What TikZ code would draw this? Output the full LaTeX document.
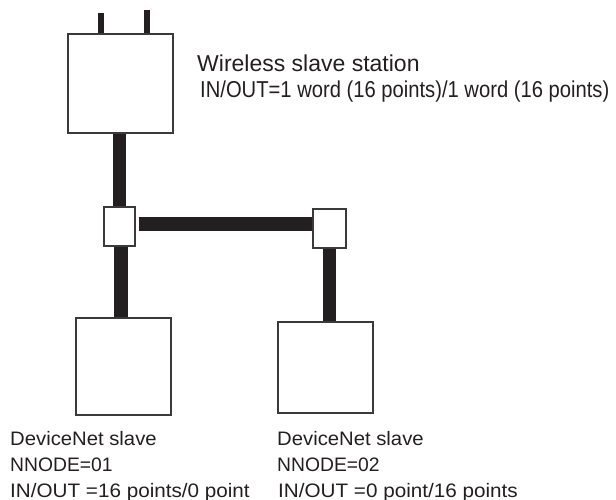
\documentclass[tikz,border=0pt]{standalone}
\usepackage{fontspec}
\setmainfont{Liberation Sans}
\usetikzlibrary{backgrounds}
\definecolor{barcol}{HTML}{231F20}
\definecolor{edgecol}{HTML}{3A3A3A}
\begin{document}
\begin{tikzpicture}[x=1pt,y=-1pt,
  box/.style={draw=edgecol,line width=1.3pt,fill=white,inner sep=0pt,minimum width=#1},
  bar/.style={draw=barcol,line width=13.5pt,line cap=butt},
  ant/.style={draw=barcol,line width=6pt,line cap=butt},
  toptxt/.style={anchor=base west,inner sep=0pt,font=\fontsize{23}{26}\selectfont,text=barcol},
  bottxt/.style={anchor=base west,inner sep=0pt,font=\fontsize{19.5}{26}\selectfont,text=barcol}]
\useasboundingbox (0,0) rectangle (616,500);
% boxes
\node[box=105pt,minimum height=99pt] (topbox) at (120.5,83.5) {};
\node[box=31pt,minimum height=39pt] (j1) at (119.5,226.5) {};
\node[box=33pt,minimum height=39pt] (j2) at (329.5,228.5) {};
\node[box=95pt,minimum height=97pt] (box1) at (123.5,366.5) {};
\node[box=95pt,minimum height=91pt] (box2) at (325.5,367.5) {};
% antenna ends
\coordinate (a1) at (101,13);
\coordinate (a2) at (147,10);
% connectors, under the boxes
\begin{scope}[on background layer]
\draw[ant] (a1) -- (a1 |- topbox.north);
\draw[ant] (a2) -- (a2 |- topbox.north);
\draw[bar] (j1.north) -- (j1.north |- topbox.south);
\draw[bar] ([xshift=3pt,yshift=2.5pt]j1.east) -- ([yshift=2.5pt]j1.east -| j2.west);
\draw[bar] ([xshift=1.5pt]j1.south) -- ([xshift=1.5pt]j1.south |- box1.north);
\draw[bar] (j2.south) -- (j2.south |- box2.north);
\end{scope}
% texts
\node[toptxt] (w1) at (197,72) {\scalebox{1.0}[1]{Wireless slave station}};
\node[toptxt] (w2) at (200,98) {\scalebox{0.878}[1]{IN/OUT=1 word (16 points)/1 word (16 points)}};
\node[bottxt] (d1) at (10,445) {\scalebox{1.04}[1]{DeviceNet slave}};
\node[bottxt] (d2) at (10,471) {\scalebox{0.99}[1]{NNODE=01}};
\node[bottxt] (d3) at (10,497) {\scalebox{1.06}[1]{IN/OUT =16 points/0 point}};
\node[bottxt] (e1) at (277,445) {\scalebox{1.04}[1]{DeviceNet slave}};
\node[bottxt] (e2) at (277,471) {\scalebox{0.99}[1]{NNODE=02}};
\node[bottxt] (e3) at (278,497) {\scalebox{1.06}[1]{IN/OUT =0 point/16 points}};
\end{tikzpicture}
\end{document}
